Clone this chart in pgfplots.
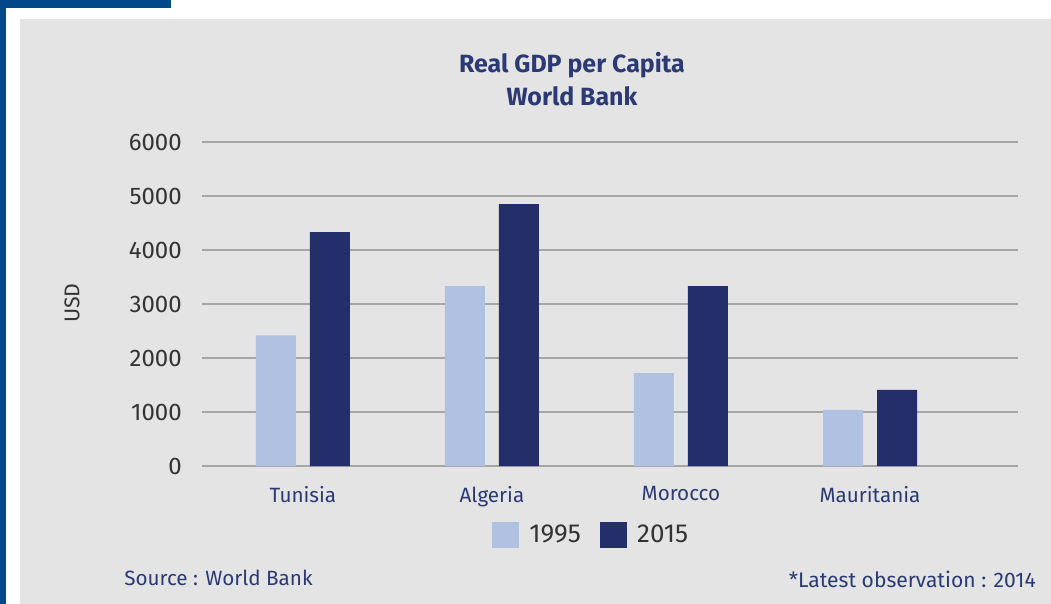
\documentclass[border=0pt]{standalone}
\usepackage{pgfplots}
\pgfplotsset{compat=1.18}
\usepackage{fontspec}
\setmainfont{Fira Sans}
\definecolor{panel}{HTML}{E4E4E4}
\definecolor{frameblue}{HTML}{00488A}
\definecolor{lightbar}{HTML}{B0C1E1}
\definecolor{darkbar}{HTML}{232E6B}
\definecolor{gridc}{HTML}{A6A6A6}
\definecolor{navy}{HTML}{2B3A75}
\definecolor{dgray}{HTML}{333333}
\begin{document}
\begin{tikzpicture}[x=0.75pt,y=-0.75pt]
\fill[white] (0,0) rectangle (1051,604);
\fill[panel] (20,19) rectangle (1051,604);
\fill[frameblue] (0,0) rectangle (6,604);
\fill[frameblue] (0,0) rectangle (171,8);
\node[font=\fontsize{18.7}{24.75}\selectfont\bfseries, text=navy, align=center] at (572,79.5) {Real GDP per Capita\\World Bank};
\node[rotate=90, font=\fontsize{16}{18}\selectfont, text=dgray] at (72,303) {USD};
\node[anchor=west, font=\fontsize{15.5}{18}\selectfont, text=navy, inner sep=0pt] at (124,578) {Source : World Bank};
\node[anchor=east, font=\fontsize{15.8}{18}\selectfont, text=navy, inner sep=0pt] at (1036,579) {*Latest observation : 2014};
\begin{axis}[
  at={(151.5pt,-349.5pt)}, anchor=south west,
  scale only axis, width=612pt, height=243pt,
  xmin=-0.534, xmax=3.783, ymin=0, ymax=6000,
  axis line style={draw=none},
  ymajorgrids, grid style={gridc, line width=1.5pt},
  major tick length=0pt,
  xtick={0,1,2,3}, xticklabels={Tunisia,Algeria,Morocco,Mauritania},
  ytick={0,1000,2000,3000,4000,5000,6000},
  /pgf/number format/assume math mode=true,
  /pgf/number format/set thousands separator={},
  yticklabel style={font=\fontsize{18}{20}\selectfont, text=dgray, inner sep=0pt, xshift=-15pt},
  xticklabel style={font=\fontsize{15.5}{18}\selectfont, text=navy, inner sep=0pt, yshift=-15pt},
  ybar, bar width=30pt,
  legend columns=2,
  legend style={at={(rel axis cs:0.477,-0.213)}, anchor=center, draw=none, fill=none,
    font=\fontsize{19.5}{21}\selectfont, text=dgray,
    /tikz/every odd column/.append style={column sep=6pt},
    /tikz/every even column/.append style={column sep=12pt}},
  legend image code/.code={\fill[#1] (0pt,-10.1pt) rectangle (20.25pt,10.1pt);},
]
\addplot[fill=lightbar, draw=none, bar shift=-20.25pt] coordinates {(0,2420) (1,3330) (2,1720) (3,1040)};
\addplot[fill=darkbar, draw=none, bar shift=20.25pt] coordinates {(0,4330) (1,4850) (2,3330) (3,1410)};
\legend{1995,2015}
\end{axis}
\end{tikzpicture}
\end{document}
